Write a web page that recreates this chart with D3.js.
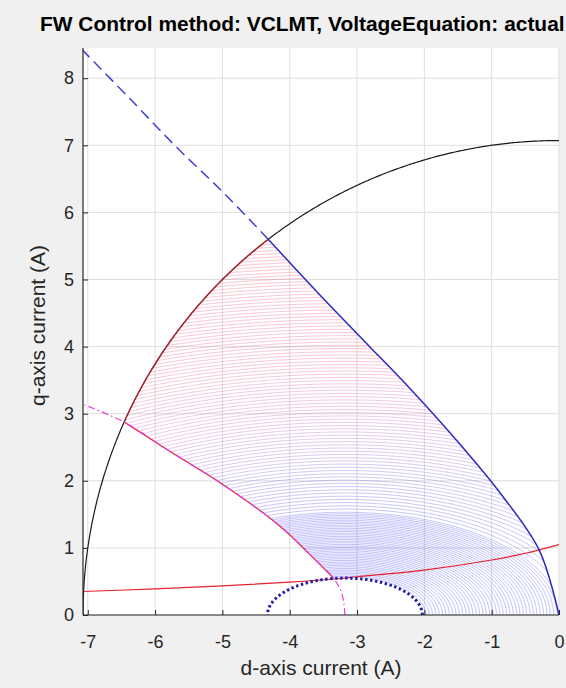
<!DOCTYPE html>
<html><head><meta charset="utf-8">
<script src="https://cdn.jsdelivr.net/npm/d3@7"></script>
<style>
html,body{margin:0;padding:0;background:#f0f0f0;}
svg{display:block;font-family:"Liberation Sans",Arial,Helvetica,sans-serif;}
</style></head><body>
<svg id="chart" width="566" height="688"></svg>
<script>
// Axis limits and tick labels (A)
const xLimits = [-7.071, 0];
const yLimits = [0, 8.45];
const xTickValues = [-7, -6, -5, -4, -3, -2, -1, 0];
const yTickValues = [0, 1, 2, 3, 4, 5, 6, 7, 8];

// Current limit circle radius (A)
const currentLimit = 7.071;
// Voltage-limit ellipses: centre on the d axis and d/q semi-axis ratio (Lq/Ld)
const ellipseCentre = -3.18;
const ellipseRatio = 2.09;
// d-axis semi-axis of the ellipse at maximum speed (A)
const maxSpeedRadius = 1.15;
// d-axis semi-axes of the voltage ellipses swept from base to maximum speed (A)
const speedRadii = [
  11.9, 11.8, 11.7, 11.6, 11.5, 11.4, 11.3, 11.2, 11.1, 11.0, 10.9, 10.8, 10.7, 10.6, 10.5, 10.4,
  10.3, 10.2, 10.1, 10.0, 9.9, 9.8, 9.7, 9.6, 9.5, 9.4, 9.3, 9.2, 9.1, 9.0, 8.9, 8.8, 8.7, 8.6,
  8.5, 8.4, 8.3, 8.2, 8.1, 8.0, 7.9, 7.8, 7.7, 7.6, 7.5, 7.4, 7.3, 7.2, 7.1, 7.0, 6.9, 6.8, 6.7,
  6.6, 6.5, 6.4, 6.3, 6.2, 6.1, 6.0, 5.9, 5.8, 5.7, 5.6, 5.5, 5.4, 5.3, 5.2, 5.1, 5.0, 4.9, 4.8,
  4.7, 4.6, 4.5, 4.4, 4.3, 4.2, 4.1, 4.0, 3.9, 3.8, 3.7, 3.6, 3.5, 3.4, 3.3, 3.2, 3.15, 3.1, 3.05,
  3.0, 2.95, 2.9, 2.85, 2.8, 2.75, 2.7, 2.65, 2.6, 2.55, 2.5, 2.45, 2.4, 2.35, 2.3, 2.25, 2.2,
  2.15, 2.1, 2.05, 2.0, 1.95, 1.9, 1.85, 1.8, 1.75, 1.7, 1.65, 1.6, 1.55, 1.5, 1.45, 1.4, 1.35,
  1.3, 1.25, 1.2];
// colour stops of the speed sweep, keyed by ellipse semi-axis (A)
const sweepStops = [1.15, 3.3, 4.7, 6.3, 8.0, 11.9];
const sweepColours = ["#1010ff", "#2f2af5", "#6a3ae0", "#c040b0", "#f03070", "#ff3050"];

// MTPA trajectory (d, q), origin to current limit, then beyond it
const mtpaD = [0, -0.29, -0.86, -1.51, -2.19, -2.88, -3.58, -4.32];
const mtpaQ = [0, 0.96, 1.80, 2.59, 3.35, 4.07, 4.80, 5.60];
const mtpaExtD = [-4.32, -4.97, -5.68, -6.38, -7.08];
const mtpaExtQ = [5.60, 6.28, 6.97, 7.70, 8.42];

// MTPV trajectory (d, q), from the ellipse centre outwards
const mtpvD = [-3.18, -3.22, -3.35, -3.70, -4.14, -5.00, -5.80, -6.45, -7.07];
const mtpvQ = [0, 0.30, 0.55, 0.90, 1.32, 1.95, 2.45, 2.87, 3.14];

// Constant-torque curve reached at maximum speed (d, q)
const torqueD = [-7.07, -6, -5, -4, -3.3, -3, -2, -1, -0.5, 0];
const torqueQ = [0.35, 0.39, 0.435, 0.49, 0.54, 0.57, 0.67, 0.82, 0.92, 1.05];

const svg = d3.select("#chart");
const W = 566, H = 688;
const margin = {left: 83, right: 7, top: 48, bottom: 73};
const x = d3.scaleLinear().domain(xLimits).range([margin.left, W - margin.right]);
const y = d3.scaleLinear().domain(yLimits).range([H - margin.bottom, margin.top]);

svg.append("rect").attr("width", W).attr("height", H).attr("fill", "#f0f0f0");
svg.append("rect")
  .attr("x", x.range()[0]).attr("y", y.range()[1])
  .attr("width", x.range()[1] - x.range()[0])
  .attr("height", y.range()[0] - y.range()[1])
  .attr("fill", "#ffffff");

// grid
const grid = svg.append("g").attr("stroke", "#dedede").attr("stroke-width", 1);
grid.selectAll(".gx").data(xTickValues).join("line")
  .attr("x1", d => x(d)).attr("x2", d => x(d))
  .attr("y1", y.range()[0]).attr("y2", y.range()[1]);
grid.selectAll(".gy").data(yTickValues).join("line")
  .attr("x1", x.range()[0]).attr("x2", x.range()[1])
  .attr("y1", d => y(d)).attr("y2", d => y(d));

const line = d3.line().x(d => x(d[0])).y(d => y(d[1]));
const smooth = d3.line().x(d => x(d[0])).y(d => y(d[1])).curve(d3.curveCatmullRom.alpha(0.5));
const zip = (a, b) => a.map((v, i) => [v, b[i]]);

// sampled shapes
const degs = d3.range(0, 180.5, 0.5);
function ellipsePts(a, from = 0, to = 180) {
  return degs.filter(t => t >= from - 1e-9 && t <= to + 1e-9).map(t => {
    const r = t * Math.PI / 180;
    return [ellipseCentre + a * Math.cos(r), (a / ellipseRatio) * Math.sin(r)];
  });
}
function circlePts(from, to) {
  const pts = [];
  for (let t = from; t <= to + 1e-9; t += 0.25) {
    const r = t * Math.PI / 180;
    pts.push([currentLimit * Math.cos(r), currentLimit * Math.sin(r)]);
  }
  return pts;
}

// operating region: MTPA -> current limit -> MTPV -> max-speed ellipse -> d axis
const mtpa = zip(mtpaD, mtpaQ);
const mtpv = zip(mtpvD, mtpvQ);
const angOf = p => Math.atan2(p[1], p[0]) * 180 / Math.PI;
const mtpaEnd = mtpa[mtpa.length - 1];
const mtpvCircleIdx = mtpvD.indexOf(-6.45);
const mtpvCircle = mtpv[mtpvCircleIdx];
const mtpvSpeedIdx = mtpvD.indexOf(-3.35);
const mtpvOnCircleToSpeed = mtpv.slice(mtpvSpeedIdx, mtpvCircleIdx + 1).reverse();
const sp = mtpv[mtpvSpeedIdx];
const speedAng = Math.atan2(sp[1] * ellipseRatio / maxSpeedRadius, (sp[0] - ellipseCentre) / maxSpeedRadius) * 180 / Math.PI;
const region = [].concat(
  mtpa,
  circlePts(angOf(mtpaEnd), angOf(mtpvCircle)),
  mtpvOnCircleToSpeed,
  ellipsePts(maxSpeedRadius, 0, speedAng).reverse(),
  [[0, 0]]
);

const defs = svg.append("defs");
defs.append("clipPath").attr("id", "region").append("path").attr("d", smooth(region) + "Z");
defs.append("clipPath").attr("id", "plotArea").append("rect")
  .attr("x", x.range()[0]).attr("y", y.range()[1])
  .attr("width", x.range()[1] - x.range()[0]).attr("height", y.range()[0] - y.range()[1]);

const plot = svg.append("g").attr("clip-path", "url(#plotArea)");

// swept voltage ellipses, red at base speed to blue at maximum speed
const colour = d3.scaleLinear().domain(sweepStops).range(sweepColours).interpolate(d3.interpolateRgb);
plot.append("g").attr("clip-path", "url(#region)")
  .selectAll("path").data(speedRadii).join("path")
  .attr("d", a => line(ellipsePts(a)))
  .attr("fill", "none")
  .attr("stroke", a => colour(a))
  .attr("stroke-opacity", 0.42)
  .attr("stroke-width", 0.65);

// current limit circle
plot.append("path").attr("d", line(circlePts(90, 180)))
  .attr("fill", "none").attr("stroke", "#1a1a1a").attr("stroke-width", 1.2);

// torque curve at maximum speed
plot.append("path").attr("d", smooth(zip(torqueD, torqueQ)))
  .attr("fill", "none").attr("stroke", "#e8212b").attr("stroke-width", 1.2);

// operating boundary along the current limit and MTPV
plot.append("path").attr("d", line(circlePts(angOf(mtpaEnd), angOf(mtpvCircle))))
  .attr("fill", "none").attr("stroke", "#c0202a").attr("stroke-width", 1.2);
plot.append("path").attr("d", smooth(mtpvOnCircleToSpeed))
  .attr("fill", "none").attr("stroke", "#e8212b").attr("stroke-width", 1.2);

// MTPV line
plot.append("path").attr("d", smooth(mtpv))
  .attr("fill", "none").attr("stroke", "#e040e0").attr("stroke-width", 1.2)
  .attr("stroke-dasharray", "7 3 1.5 3");

// MTPA line
plot.append("path").attr("d", smooth(mtpa))
  .attr("fill", "none").attr("stroke", "#2b2bbf").attr("stroke-width", 1.5);
plot.append("path").attr("d", smooth(zip(mtpaExtD, mtpaExtQ)))
  .attr("fill", "none").attr("stroke", "#4040d8").attr("stroke-width", 1.5)
  .attr("stroke-dasharray", "11 6");

// voltage limit at maximum speed
plot.append("path").attr("d", line(ellipsePts(maxSpeedRadius)))
  .attr("fill", "none").attr("stroke", "#1c1ca8").attr("stroke-width", 3)
  .attr("stroke-dasharray", "2.4 2.6");

// axes
const axisColor = "#262626";
const xAxis = svg.append("g").attr("transform", `translate(0,${y.range()[0]})`)
  .call(d3.axisBottom(x).tickValues(xTickValues).tickSize(-5).tickPadding(20).tickFormat(d3.format("d")));
const yAxis = svg.append("g").attr("transform", `translate(${x.range()[0]},0)`)
  .call(d3.axisLeft(y).tickValues(yTickValues).tickSize(-5).tickPadding(9).tickFormat(d3.format("d")));
[xAxis, yAxis].forEach(g => {
  g.select(".domain").attr("stroke", axisColor).attr("stroke-width", 1.2);
  g.selectAll(".tick line").attr("stroke", axisColor);
  g.selectAll(".tick text").attr("fill", "#262626").attr("font-size", 18)
    .attr("font-family", "'Liberation Sans', Arial, sans-serif");
});
xAxis.selectAll(".tick text").text(d => d < 0 ? "-" + Math.abs(d) : d);
yAxis.select(".domain").attr("d", `M0,${y.range()[0]}V${y.range()[1]}`);
xAxis.select(".domain").attr("d", `M${x.range()[0]},0H${x.range()[1]}`);

// labels
svg.append("text").attr("x", (x.range()[0] + x.range()[1]) / 2).attr("y", 675)
  .attr("text-anchor", "middle").attr("font-size", 21).attr("fill", "#262626")
  .text("d-axis current (A)");
svg.append("text").attr("transform", `translate(45,${(y.range()[0] + y.range()[1]) / 2 - 6}) rotate(-90)`)
  .attr("text-anchor", "middle").attr("font-size", 21).attr("fill", "#262626")
  .text("q-axis current (A)");
const title = svg.append("text").attr("x", 40).attr("y", 31)
  .attr("font-size", 17).attr("font-weight", "bold").attr("fill", "#000")
  .text("FW Control method: VCLMT, VoltageEquation: actual");
const tw = title.node().getComputedTextLength();
title.attr("font-size", 17 * 525 / tw);
</script>
</body></html>
